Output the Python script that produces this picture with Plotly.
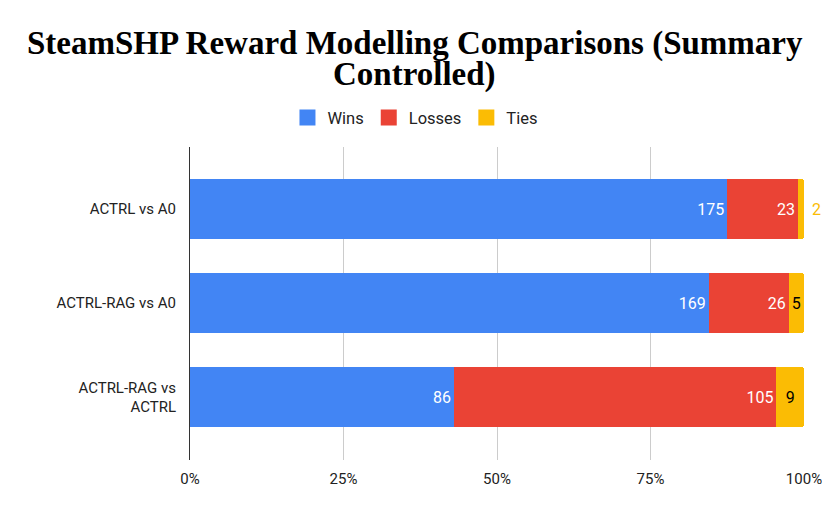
import plotly.graph_objects as go

# Daten aus dem Diagramm
categories = ["ACTRL vs A0", "ACTRL-RAG vs A0", "ACTRL-RAG vs<br>ACTRL"]
wins = [175, 169, 86]
losses = [23, 26, 105]
ties = [2, 5, 9]
series_names = ["Wins", "Losses", "Ties"]
tick_vals = [0, 25, 50, 75, 100]
tick_text = ["0%", "25%", "50%", "75%", "100%"]
title_lines = ["SteamSHP Reward Modelling Comparisons (Summary", "Controlled)"]

blue = "#4285F4"
red = "#EA4335"
yellow = "#FBBC04"
colors = [blue, red, yellow]

fig = go.Figure()

fig.add_trace(go.Bar(
    y=categories, x=wins, name="Wins", orientation="h", showlegend=False,
    marker=dict(color=blue, line=dict(width=0)),
    text=wins, textposition="inside", insidetextanchor="end",
    textfont=dict(color="white", size=16, family="Roboto"),
))
fig.add_trace(go.Bar(
    y=categories, x=losses, name="Losses", orientation="h", showlegend=False,
    marker=dict(color=red, line=dict(width=0)),
    text=losses, textposition="inside", insidetextanchor="end",
    textfont=dict(color="white", size=16, family="Roboto"),
))
# das "2" passt nicht in den Balken -> als Annotation daneben
tie_text = ["" if t < 3 else str(t) for t in ties]
fig.add_trace(go.Bar(
    y=categories, x=ties, name="Ties", orientation="h", showlegend=False,
    marker=dict(color=yellow, line=dict(width=0)),
    text=tie_text, textposition="inside", insidetextanchor="middle",
    textfont=dict(color="black", size=16, family="Roboto"),
))

for i, t in enumerate(ties):
    if t < 3:
        fig.add_annotation(
            x=100, y=categories[i], text=str(t), showarrow=False,
            xanchor="left", xshift=6,
            font=dict(color=yellow, size=16, family="Roboto"),
        )

# Dummy-Traces fuer die Legende (groessere Quadrate)
for name, col in zip(series_names, colors):
    fig.add_trace(go.Scatter(
        x=[None], y=[None], mode="markers", name=name,
        marker=dict(symbol="square", size=17, color=col),
    ))

# Titel als zwei Annotationen (engerer Zeilenabstand)
for j, line in enumerate(title_lines):
    fig.add_annotation(
        text=line, xref="paper", yref="paper", x=0.3664, y=[1.3307, 1.2316][j],
        xanchor="center", yanchor="middle", showarrow=False,
        font=dict(family="Liberation Serif", size=33, color="black", weight="bold"),
    )

fig.update_layout(
    barmode="stack",
    barnorm="percent",
    bargap=0.36,
    barcornerradius=3,
    width=822, height=498,
    margin=dict(l=182, r=26, t=139, b=46, autoexpand=False),
    paper_bgcolor="white",
    plot_bgcolor="white",
    font=dict(family="Roboto", size=15, color="#222222"),
    legend=dict(
        orientation="h", x=0.3664, xanchor="center",
        y=1.093, yanchor="middle",
        font=dict(size=16.5, color="#222222"), traceorder="normal",
    ),
    uniformtext=dict(mode="show", minsize=10),
)

fig.update_xaxes(
    range=[0, 100], tickvals=tick_vals, ticktext=tick_text,
    showgrid=True, gridcolor="#cccccc", gridwidth=1,
    zeroline=False, showline=False, ticks="", ticklabelstandoff=8,
    tickfont=dict(size=15, color="#222222"),
)
fig.update_yaxes(
    autorange=False, range=[2.67, -0.66],
    showgrid=False, zeroline=False,
    showline=True, linecolor="#333333", linewidth=1,
    ticks="", ticklabelstandoff=10,
    tickfont=dict(size=15, color="#222222"),
)

fig.write_html("out.html")
